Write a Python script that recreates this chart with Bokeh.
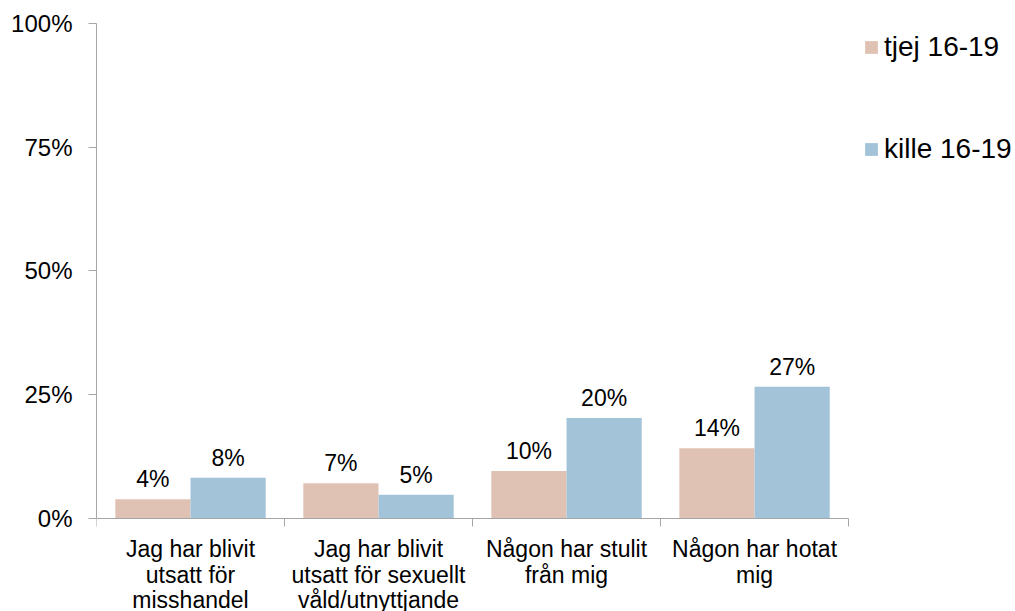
from bokeh.plotting import figure
from bokeh.models import (ColumnDataSource, Range1d, FixedTicker, LabelSet,
                          Legend, LegendItem)
from bokeh.core.properties import value
from bokeh.embed import file_html
from bokeh.resources import INLINE

# ---- data ----
categories = [
    "Jag har blivit\nutsatt för\nmisshandel",
    "Jag har blivit\nutsatt för sexuellt\nvåld/utnyttjande",
    "Någon har stulit\nfrån mig",
    "Någon har hotat\nmig",
]
series_names = ["tjej 16-19", "kille 16-19"]
tjej = [3.9, 7.1, 9.6, 14.2]
kille = [8.2, 4.8, 20.3, 26.6]
y_ticks = [0, 25, 50, 75, 100]
y_tick_labels = ["0%", "25%", "50%", "75%", "100%"]

# ---- styles ----
FONT = "Liberation Sans"
C_TJEJ = "#E0C2B5"
C_KILLE = "#A3C4D8"
AXIS_GRAY = "#A6A6A6"

n = len(categories)
centers = [i + 0.5 for i in range(n)]
x_tjej = [i + 0.3 for i in range(n)]
x_kille = [i + 0.7 for i in range(n)]

src_t = ColumnDataSource(dict(x=x_tjej, top=tjej,
                              lab=[f"{round(v)}%" for v in tjej]))
src_k = ColumnDataSource(dict(x=x_kille, top=kille,
                              lab=[f"{round(v)}%" for v in kille]))

W, H = 1015, 611
p = figure(width=W, height=H, output_backend="svg", toolbar_location=None,
           x_range=Range1d(0, 4.888), y_range=Range1d(-18.8, 100),
           min_border_left=96, min_border_right=0,
           min_border_top=23, min_border_bottom=0)
p.outline_line_color = None
p.xgrid.visible = False
p.ygrid.visible = False
p.background_fill_color = "white"
p.border_fill_color = "white"

r_t = p.vbar(x="x", top="top", width=0.4, source=src_t,
             fill_color=C_TJEJ, line_color=None)
r_k = p.vbar(x="x", top="top", width=0.4, source=src_k,
             fill_color=C_KILLE, line_color=None)

# y axis
yax = p.yaxis[0]
yax.bounds = (0, 100)
yax.ticker = FixedTicker(ticks=y_ticks)
yax.major_label_overrides = {t: l for t, l in zip(y_ticks, y_tick_labels)}
yax.axis_line_color = AXIS_GRAY
yax.major_tick_line_color = AXIS_GRAY
yax.minor_tick_line_color = None
yax.major_tick_out = 8
yax.major_tick_in = 0
yax.major_label_standoff = 16
yax.major_label_text_font = FONT
yax.major_label_text_font_size = "24px"
yax.major_label_text_color = "black"

# x axis at y=0: boundary ticks (minor) and category labels (major)
xax = p.xaxis[0]
xax.fixed_location = 0
xax.bounds = (0, n)
xax.ticker = FixedTicker(ticks=centers, minor_ticks=list(range(n + 1)))
xax.major_label_overrides = {c: t for c, t in zip(centers, categories)}
xax.axis_line_color = AXIS_GRAY
xax.major_tick_line_color = None
xax.major_tick_out = 0
xax.major_tick_in = 0
xax.minor_tick_line_color = AXIS_GRAY
xax.minor_tick_out = 8
xax.minor_tick_in = 0
xax.major_label_standoff = 10
xax.major_label_text_font = FONT
xax.major_label_text_font_size = "23px"
xax.major_label_text_color = "black"
xax.major_label_text_line_height = 0.98

# value labels
for src in (src_t, src_k):
    p.add_layout(LabelSet(x="x", y="top", text="lab", source=src,
                          text_align="center", text_baseline="alphabetic",
                          y_offset=12, text_font=value(FONT),
                          text_font_size=value("23px"),
                          text_color="black"))

legend = Legend(items=[LegendItem(label=series_names[0], renderers=[r_t]),
                       LegendItem(label=series_names[1], renderers=[r_k])],
                location=(767, 446), orientation="vertical",
                glyph_width=16, glyph_height=16, label_height=30,
                label_standoff=5, spacing=70, padding=0, margin=0,
                label_text_font=FONT, label_text_font_size="28px",
                label_text_color="black",
                border_line_alpha=0, background_fill_alpha=0)
p.add_layout(legend)

open("out.html", "w").write(file_html(p, INLINE))
